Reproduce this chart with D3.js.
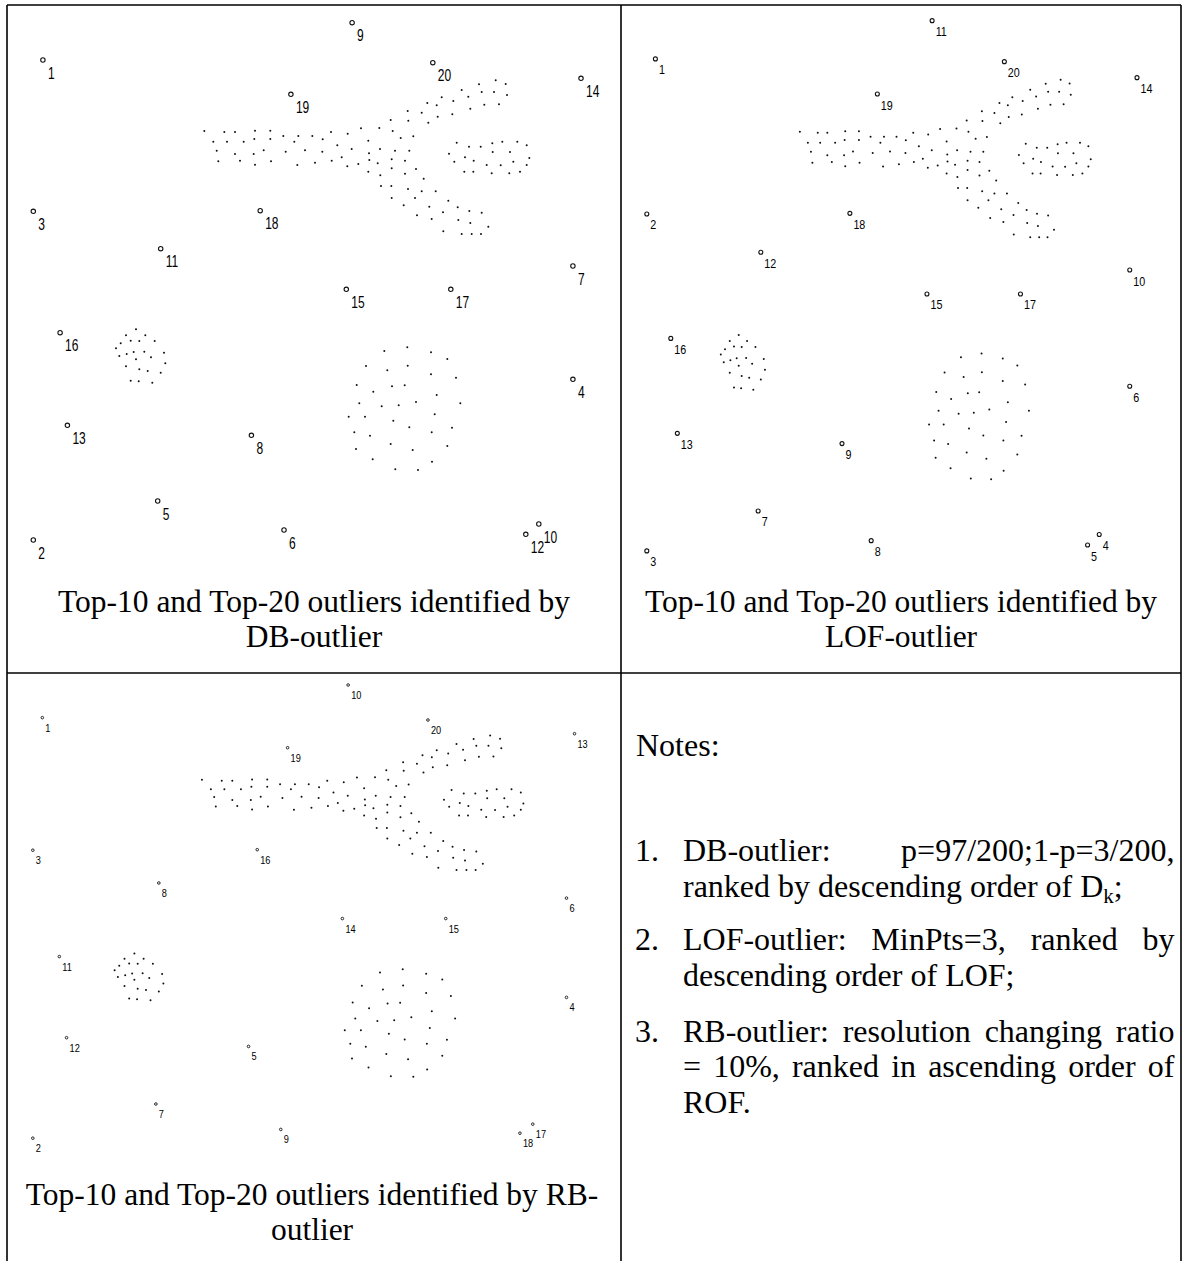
<!DOCTYPE html>
<html>
<head>
<meta charset="utf-8">
<script src="https://cdn.jsdelivr.net/npm/d3@7"></script>
<style>
  body { margin: 0; background: #fff; }
</style>
</head>
<body>
<svg id="chart" width="1183" height="1261"></svg>
<script>
// ---- data (same data set in all three panels, units ~ panel pixels) ----
// the 20 outliers, listed in DB-outlier rank order
const outlierX = [42.9, 33.3, 33.3, 572.9, 157.7, 284, 572.9, 251.4, 352.1, 538.8,
                  160.7, 525.8, 67.4, 581, 346.3, 60.1, 450.8, 260.2, 290.9, 432.8];
const outlierY = [60, 540, 211.3, 379.3, 501, 530, 266, 435.3, 22.7, 524,
                  248.7, 534.3, 425.3, 78.3, 289.3, 332.7, 289.3, 210.7, 94.3, 62.7];
const dbRank = d3.range(1, 21);
const lofRank = [1, 3, 2, 6, 7, 8, 10, 9, 11, 4, 12, 5, 13, 14, 15, 16, 17, 18, 19, 20];
const rbRank = [1, 2, 3, 4, 7, 9, 6, 5, 10, 17, 8, 18, 12, 13, 14, 11, 15, 16, 19, 20];

// cross shaped cluster
const armPoints = [
  [204.3,131],[224.3,132],[235,132],[255,130.7],[270.3,130.7],
  [213.3,141.7],[227,141.7],[243.7,141.7],[254.3,139],[270.3,139],[283.3,136],[294.3,141.7],
  [298.3,136],[312.3,136],[322.7,139.3],[331,132],
  [216.7,150.7],[235,154],[253.7,154],[263.7,150.3],[285.7,151.7],[305,150.3],[322.3,151.7],
  [337.3,145.3],[347.7,133.7],[351.7,149],[361,128.3],
  [218.3,161.3],[240,160.7],[255,164.7],[271,161.3],[297.3,165],[315,162.7],[331.7,160.7],
  [341.7,157.3],[347.3,166.3],[358.3,164],[368.3,140.7],[369,153.3],[369.3,160],
  [379.3,128],[392.7,131],[380,149],[395,150.7],[409.3,150.7],[400.7,138],[413.3,136.3],
  [377.7,163.3],[391.7,159.3],[391.7,168.3],[405,160.7],[368.3,171.7],[380.3,175.3],[405,173.7],
  [416,169],[423.7,178.7],
  [381,186],[391.3,186],[408,189],[421.7,191.3],[435.7,191.3],[391.7,198],[415,198],[448.3,200.7],
  [403.7,205.3],[429.3,206.7],[443,212.3],[457.7,207.3],[469.3,211],[481.7,212.7],
  [417,215.3],[431.7,219],[458.3,220],[470.3,223],[488.3,226.7],[443.3,231.3],[461.7,234],
  [471.7,234],[481,234],
  [390.7,120],[408.3,120.7],[407.7,111],[428.3,122.7],[421.7,112.7],[427.3,103],[437.7,116.7],
  [436.7,105.3],[441.7,97.3],[452.3,114.3],[453.3,101],[461.7,90],[468.3,96.7],[470.3,108.7],
  [479,84.3],[481.7,92],[484.3,104.7],[495.7,80.3],[494,92],[499,104.3],[505.7,84],[507,95]
];
// oval cluster at the right of the cross
const ovalCluster = [
  [456.7,142.7],[469,146.7],[480.7,146.7],[492.3,143.3],[502.3,141.7],[517.3,141.7],[526.7,145.3],
  [449,153.7],[465,157.3],[473.7,160.7],[492.7,152],[510,152],[454.3,161.7],[486.7,165],
  [500.7,165.3],[513.3,161.7],[529.3,158],[464.3,171.7],[473.3,171.7],[491.7,173.3],
  [509.3,173.3],[520,171.7],[526.7,165]
];
const smallCluster = [
  [136,329.3],[126,335.3],[145.3,335.3],[130.7,340.7],[139.3,341],[154.7,341],[120.7,343.3],
  [116,348.3],[133.7,352],[126.7,354],[144.3,351.7],[164,352.7],[119.3,356],[136,359.3],
  [151,357.3],[165.3,363.3],[126,366.3],[139.3,369.3],[147.7,371],[160.7,372.7],[130.7,380.7],
  [138.7,381.3],[152.3,382.7]
];
const bigCluster = [
  [407.3,347.3],[384.3,351],[431,352.3],[447.3,359],[366,366],[387.3,370.3],[407.7,365.7],
  [431,374.3],[456,377.7],[356.7,385],[392,386.3],[404.7,385.3],[373.3,391.7],[436.7,395],
  [359.3,403.3],[381.7,406.3],[398.7,405.3],[416,402],[460.3,403.3],[348.7,416.7],[365,416.7],
  [393.3,420.7],[434.7,414.3],[354.3,432.3],[370,435.7],[409.3,427.3],[431.7,432.3],[452,427.7],
  [356,449],[390.7,444],[412.7,450],[447.3,446],[372.7,459.3],[432,461.7],[395.3,469.3],[418,470]
];

const captions = [
  ["Top-10 and Top-20 outliers identified by", "DB-outlier"],
  ["Top-10 and Top-20 outliers identified by", "LOF-outlier"],
  ["Top-10 and Top-20 outliers identified by RB-", "outlier"]
];

// ---- layout ----
const svg = d3.select("#chart");
const serif = "'Liberation Serif', 'Times New Roman', serif";
const sans = "'Liberation Sans', Arial, sans-serif";

const panels = [
  { ranks: dbRank, xr: [0, 600], yr: [0, 560], r: 2.2, sw: 1.1, fs: 16, sx: 0.75, dx: 5, dy: 18.5,
    caption: captions[0], capX: 314, capY: [611.7, 646.7] },
  { ranks: lofRank, xr: [617, 1154], yr: [-2.6, 571.4], r: 2, sw: 1.1, fs: 12.5, sx: 0.86, dx: 3.5, dy: 15.5,
    caption: captions[1], capX: 901, capY: [611.7, 646.7] },
  { ranks: rbRank, xr: [-0.1, 593.3], yr: [665.1, 1155.7], r: 1.3, sw: 0.9, fs: 11.5, sx: 0.8, dx: 3, dy: 14,
    caption: captions[2], capX: 312, capY: [1205, 1240] }
];

const clusterPts = [...armPoints, ...ovalCluster, ...smallCluster, ...bigCluster];
const outliers = outlierX.map((x, i) => ({ x, y: outlierY[i], i }));

panels.forEach((p) => {
  const x = d3.scaleLinear().domain([0, 600]).range(p.xr);
  const y = d3.scaleLinear().domain([0, 560]).range(p.yr);
  const g = svg.append("g");

  g.append("g")
    .selectAll("circle")
    .data(clusterPts)
    .join("circle")
    .attr("cx", (d) => x(d[0]))
    .attr("cy", (d) => y(d[1]))
    .attr("r", 1)
    .attr("fill", "#111");

  g.append("g")
    .selectAll("circle")
    .data(outliers)
    .join("circle")
    .attr("cx", (d) => x(d.x))
    .attr("cy", (d) => y(d.y))
    .attr("r", p.r)
    .attr("fill", "none")
    .attr("stroke", "#111")
    .attr("stroke-width", p.sw);

  // rank labels, condensed like the original plot font
  g.append("g")
    .selectAll("text")
    .data(outliers)
    .join("text")
    .attr("transform", (d) => `translate(${x(d.x) + p.dx},${y(d.y) + p.dy}) scale(${p.sx},1)`)
    .attr("font-family", sans)
    .attr("font-size", p.fs)
    .attr("fill", "#000")
    .text((d) => p.ranks[d.i]);

  g.append("g")
    .selectAll("text")
    .data(p.caption)
    .join("text")
    .attr("x", p.capX)
    .attr("y", (d, i) => p.capY[i])
    .attr("text-anchor", "middle")
    .attr("font-family", serif)
    .attr("font-size", 31.5)
    .attr("fill", "#000")
    .text((d) => d);
});

// ---- notes cell ----
const notesG = svg.append("g").attr("font-family", serif).attr("font-size", 32).attr("fill", "#000");
notesG.append("text").attr("x", 636).attr("y", 756).text("Notes:");

const textLeft = 683, textRight = 1174.5;

function justifyLine(words, yPos) {
  const nodes = words.map((w) => notesG.append("text").attr("y", yPos).text(w));
  const widths = nodes.map((n) => n.node().getComputedTextLength());
  const gap = (textRight - textLeft - d3.sum(widths)) / (words.length - 1);
  let cx = textLeft;
  nodes.forEach((n, i) => {
    n.attr("x", cx);
    cx += widths[i] + gap;
  });
}

const noteItems = [
  { num: "1.", y: 861, lines: [["DB-outlier:", "p=97/200;1-p=3/200,"], null] },
  { num: "2.", y: 950, lines: [["LOF-outlier:", "MinPts=3,", "ranked", "by"], "descending order of LOF;"] },
  { num: "3.", y: 1041.5, lines: [["RB-outlier:", "resolution", "changing", "ratio"],
      ["=", "10%,", "ranked", "in", "ascending", "order", "of"], "ROF."] }
];
const lineH = 35.6;

noteItems.forEach((item) => {
  notesG.append("text").attr("x", 635).attr("y", item.y).text(item.num);
  item.lines.forEach((ln, k) => {
    const yy = item.y + k * lineH;
    if (Array.isArray(ln)) justifyLine(ln, yy);
    else if (typeof ln === "string") notesG.append("text").attr("x", textLeft).attr("y", yy).text(ln);
  });
});

// line with subscript D_k
const dk = notesG.append("text").attr("x", textLeft).attr("y", 861 + lineH);
dk.append("tspan").text("ranked by descending order of D");
dk.append("tspan").attr("font-size", 21).attr("dy", 6).text("k");
dk.append("tspan").attr("dy", -6).text(";");

// ---- table rules ----
const rules = svg.append("g").attr("stroke", "#000").attr("stroke-width", 1.6);
[
  [7, 5, 1181, 5],
  [7, 673, 1181, 673],
  [7, 5, 7, 1261],
  [621, 5, 621, 1261],
  [1181, 5, 1181, 1261]
].forEach((l) =>
  rules.append("line").attr("x1", l[0]).attr("y1", l[1]).attr("x2", l[2]).attr("y2", l[3])
);
</script>
</body>
</html>
